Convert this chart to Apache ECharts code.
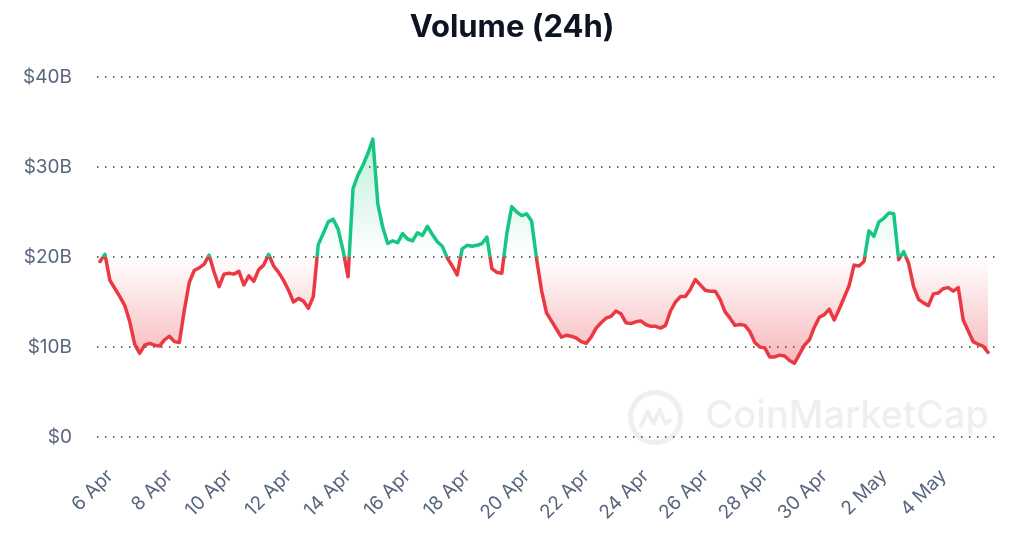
<!DOCTYPE html>
<html>
<head>
<meta charset="utf-8">
<title>Volume (24h)</title>
<script src="https://cdn.jsdelivr.net/npm/echarts@6/dist/echarts.min.js"></script>
<style>
  html, body { margin: 0; padding: 0; background: #fff; }
  #chart { width: 1024px; height: 546px; }
</style>
</head>
<body>
<div id="chart"></div>
<script>
// 24h volume in $B, one reading every 4 hours from 5 Apr 16:00
const volume = [
  19.5, 20.3, 17.4, 16.5, 15.6, 14.6, 12.8, 10.3, 9.3, 10.2,
  10.4, 10.2, 10.1, 10.8, 11.2, 10.6, 10.5, 14.1, 17.2, 18.5,
  18.8, 19.2, 20.2, 18.3, 16.7, 18.1, 18.2, 18.1, 18.4, 16.9,
  17.9, 17.3, 18.6, 19.1, 20.3, 19.0, 18.3, 17.4, 16.3, 15.0,
  15.4, 15.1, 14.3, 15.6, 21.4, 22.6, 23.9, 24.2, 23.1, 20.7,
  17.8, 27.6, 29.1, 30.2, 31.5, 33.1, 25.9, 23.3, 21.5, 21.8,
  21.6, 22.6, 22.0, 21.8, 22.7, 22.4, 23.4, 22.5, 21.7, 21.2,
  19.9, 19.0, 18.0, 20.9, 21.3, 21.2, 21.3, 21.5, 22.2, 18.7,
  18.3, 18.2, 22.6, 25.6, 25.0, 24.6, 24.8, 24.0, 19.8, 16.3,
  13.8, 12.9, 12.0, 11.1, 11.3, 11.2, 11.0, 10.6, 10.4, 11.1,
  12.1, 12.7, 13.2, 13.4, 14.0, 13.7, 12.7, 12.6, 12.8, 12.9,
  12.5, 12.3, 12.3, 12.1, 12.4, 14.0, 15.0, 15.6, 15.6, 16.4,
  17.5, 16.9, 16.3, 16.2, 16.2, 15.3, 13.9, 13.2, 12.4, 12.5,
  12.4, 11.7, 10.5, 10.0, 9.9, 8.9, 8.9, 9.1, 9.0, 8.5,
  8.2, 9.2, 10.2, 10.8, 12.2, 13.3, 13.6, 14.2, 13.0, 14.2,
  15.5, 16.8, 19.1, 19.0, 19.5, 22.9, 22.3, 23.9, 24.3, 24.9,
  24.8, 19.7, 20.6, 19.3, 16.7, 15.3, 14.9, 14.6, 15.9, 16.0,
  16.5, 16.6, 16.2, 16.6, 13.0, 11.8, 10.6, 10.3, 10.1, 9.4
];

const tickLabels = ['6 Apr', '8 Apr', '10 Apr', '12 Apr', '14 Apr', '16 Apr', '18 Apr',
  '20 Apr', '22 Apr', '24 Apr', '26 Apr', '28 Apr', '30 Apr', '2 May', '4 May'];

const months = ['Jan', 'Feb', 'Mar', 'Apr', 'May', 'Jun', 'Jul', 'Aug', 'Sep', 'Oct', 'Nov', 'Dec'];
const startTime = Date.UTC(2024, 3, 5, 16);
const stepHours = 4;
const threshold = 20;

const green = '#16c784';
const red = '#ea3943';
const labelColor = '#58667e';
const fontFamily = 'Inter, Roboto, Arial, sans-serif';

const categories = volume.map((v, i) => {
  const d = new Date(startTime + i * stepHours * 3600 * 1000);
  return d.getUTCDate() + ' ' + months[d.getUTCMonth()] + ' ' + d.getUTCHours() + ':00';
});

// a tick label every 2 days at midnight, starting with 6 Apr
const isTick = (label) => {
  const parts = label.split(' ');
  return parts[2] === '0:00' && tickLabels.indexOf(parts[0] + ' ' + parts[1]) !== -1;
};

// colour switches at the threshold: position of 20B inside the series' own box
const vMax = Math.max(...volume);
const vMin = Math.min(...volume);
const splitAt = (vMax - threshold) / (vMax - vMin);

const lineColor = new echarts.graphic.LinearGradient(0, 0, 0, 1, [
  { offset: 0, color: green },
  { offset: splitAt, color: green },
  { offset: splitAt, color: red },
  { offset: 1, color: red },
]);

const areaColor = new echarts.graphic.LinearGradient(0, 0, 0, 1, [
  { offset: 0, color: 'rgba(22,199,132,0.28)' },
  { offset: splitAt, color: 'rgba(22,199,132,0)' },
  { offset: splitAt, color: 'rgba(234,57,67,0)' },
  { offset: 1, color: 'rgba(234,57,67,0.36)' },
]);

const chart = echarts.init(document.getElementById('chart'));

const dotted = {
  color: '#333',
  width: 1.5,
  type: [1.5, 6.5],
};

chart.setOption({
  animation: false,
  backgroundColor: '#fff',
  textStyle: { fontFamily },
  title: {
    text: 'Volume (24h)',
    left: 'center',
    top: 7,
    textStyle: {
      fontFamily,
      fontSize: 31,
      fontWeight: 'bold',
      color: '#0d1421',
    },
  },
  graphic: [
    {
      type: 'group',
      left: 628,
      top: 390,
      z: -1,
      children: [
        {
          type: 'circle',
          shape: { cx: 30, cy: 28, r: 25 },
          style: { fill: 'none', stroke: '#efefef', lineWidth: 5 },
        },
        {
          type: 'polyline',
          shape: { points: [[15, 38], [22, 22], [28, 34], [34, 20], [40, 34], [46, 30]] },
          style: { fill: 'none', stroke: '#efefef', lineWidth: 4, lineJoin: 'round' },
        },
        {
          type: 'text',
          style: {
            x: 80,
            y: 8,
            text: 'CoinMarketCap',
            fill: '#efefef',
            font: '500 38px Inter, Roboto, Arial, sans-serif',
          },
        },
      ],
    },
  ],
  grid: [
    { left: 100, right: 36, top: 77, height: 360 },
    { left: 97, right: 24, top: 77, height: 360 },
  ],
  xAxis: [
    {
      type: 'category',
      gridIndex: 0,
      data: categories,
      boundaryGap: false,
      axisLine: { show: false },
      axisTick: { show: false },
      splitLine: { show: false },
      axisLabel: {
        rotate: 45,
        margin: 36,
        fontSize: 19,
        color: labelColor,
        interval: (index, value) => isTick(value),
        formatter: (value) => value.split(' ').slice(0, 2).join(' '),
      },
    },
    { type: 'value', gridIndex: 1, min: 0, max: 1, show: false },
  ],
  yAxis: [
    { type: 'value', gridIndex: 0, min: 0, max: 40, interval: 10, show: false },
    {
      type: 'value',
      gridIndex: 1,
      min: 0,
      max: 40,
      interval: 10,
      axisLine: { show: false },
      axisTick: { show: false },
      axisLabel: {
        margin: 25,
        fontSize: 19,
        color: labelColor,
        formatter: (v) => (v === 0 ? '$0' : '$' + v + 'B'),
      },
      splitLine: { lineStyle: dotted },
    },
  ],
  series: [
    {
      name: 'Volume',
      type: 'line',
      xAxisIndex: 0,
      yAxisIndex: 0,
      data: volume,
      showSymbol: false,
      smooth: false,
      lineStyle: { width: 3.5, color: lineColor, join: 'round', cap: 'round' },
      areaStyle: {
        origin: threshold,
        opacity: 1,
        color: areaColor,
      },
      z: 3,
    },
  ],
});
</script>
</body>
</html>
